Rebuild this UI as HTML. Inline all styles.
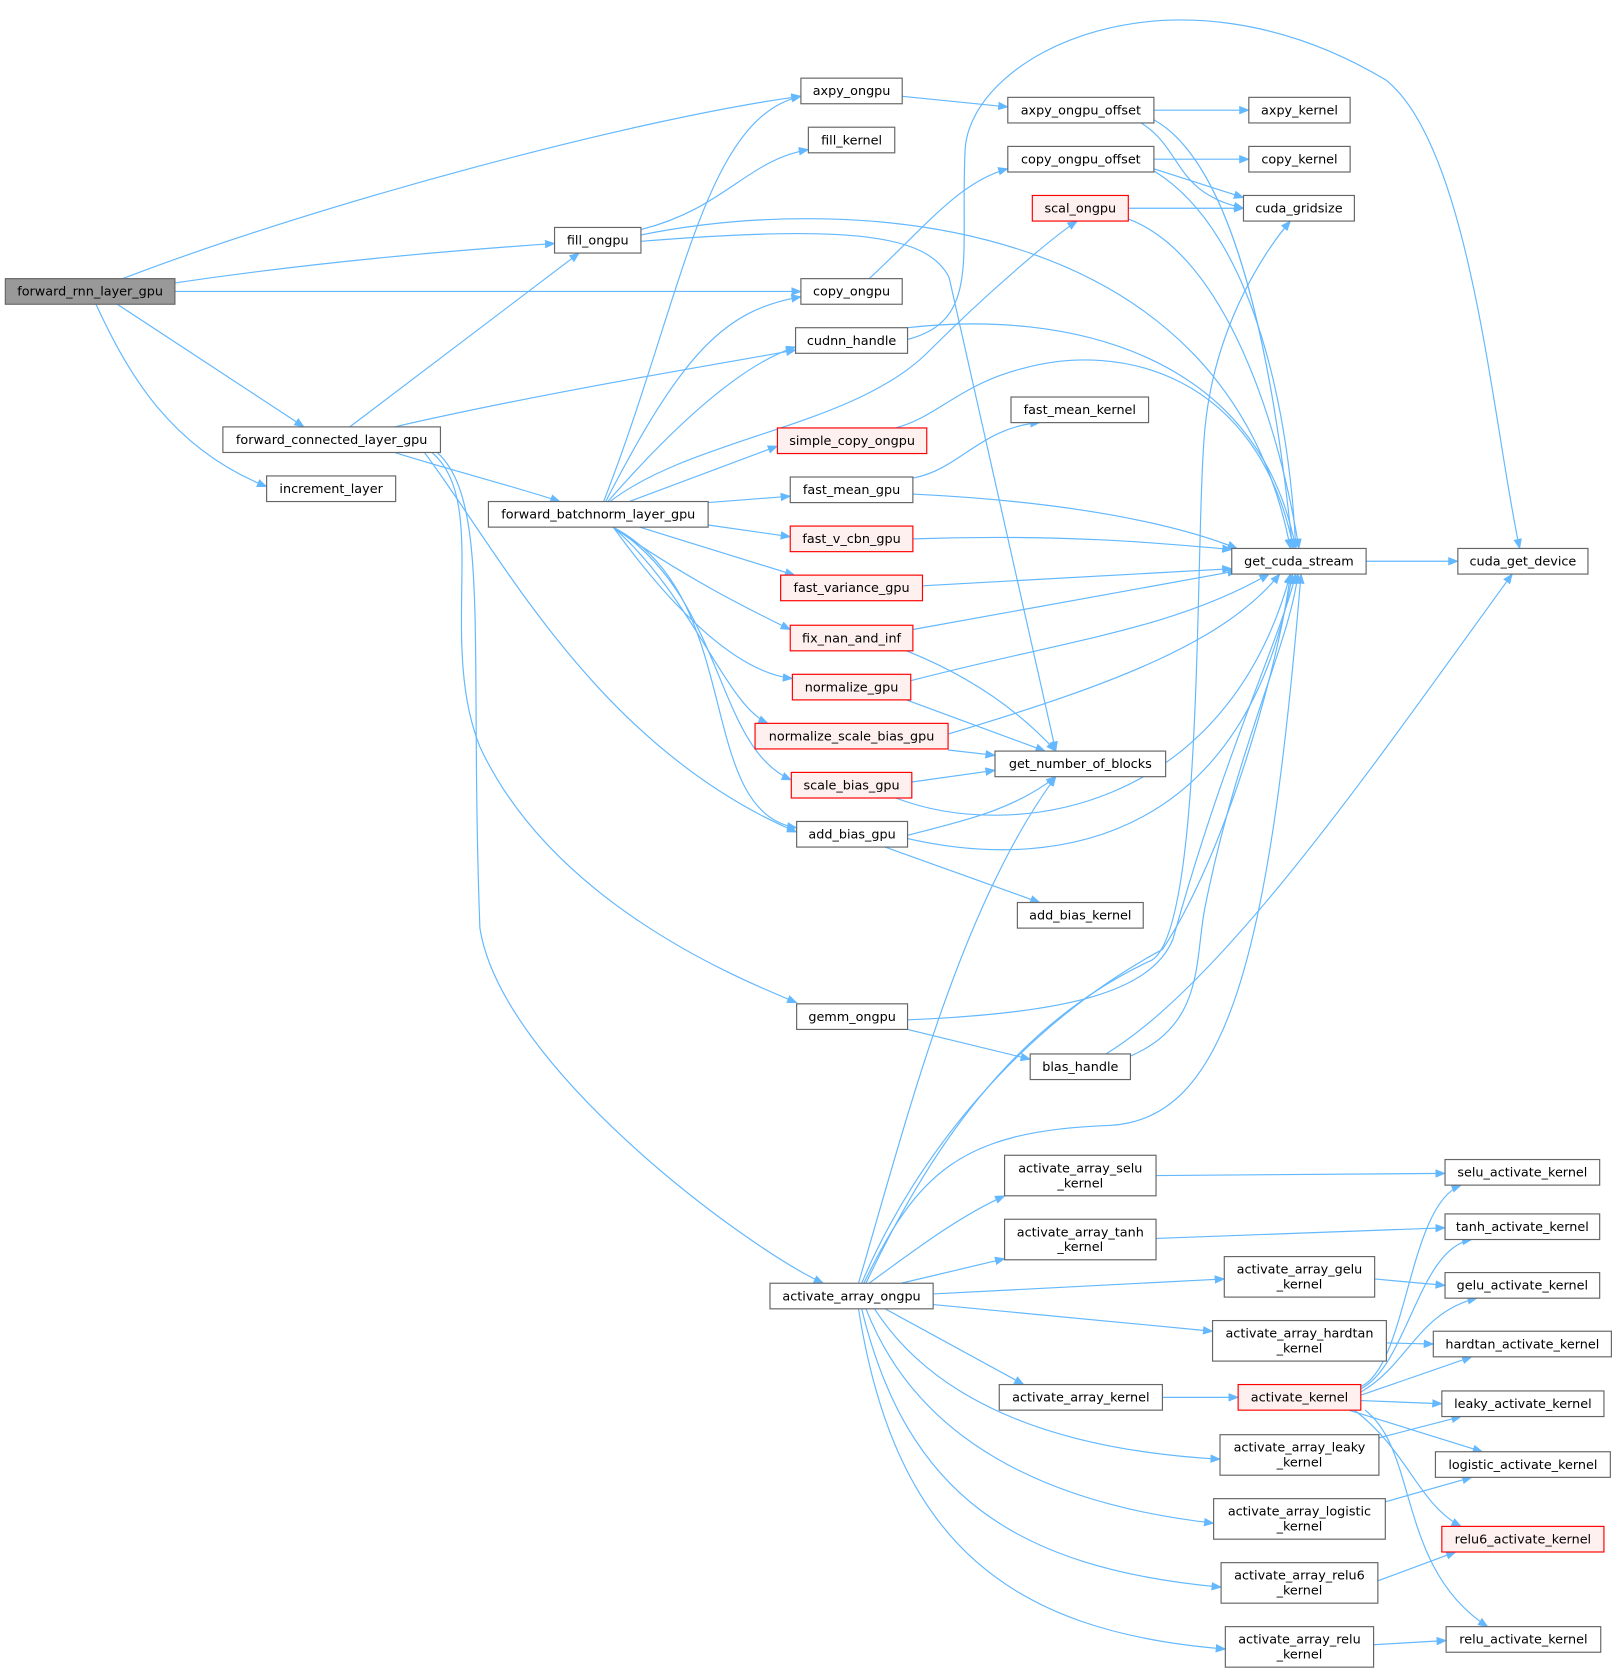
<!DOCTYPE html>
<html><head><meta charset="utf-8"><style>
html,body{margin:0;padding:0;background:#fff;}
svg{display:block;}
text{font-family:"DejaVu Sans","Liberation Sans",sans-serif;font-size:12px;fill:#000;text-anchor:middle;}
.n{fill:#fff;stroke:#666;stroke-width:1.1;}
.r{fill:#fff0f0;stroke:#f00;stroke-width:1.1;}
.g{fill:#999;stroke:#666;stroke-width:1.1;}
path.e{fill:none;stroke:#63b8ff;stroke-width:1.1;marker-end:url(#a);}
</style></head><body>
<svg width="1621" height="1676" viewBox="0 0 1520 1571" xmlns="http://www.w3.org/2000/svg">
<defs><marker id="a" markerWidth="10" markerHeight="8" refX="9" refY="4" orient="auto" markerUnits="userSpaceOnUse"><path d="M0,0 L10,4 L0,8 z" fill="#63b8ff"/></marker></defs>
<g>
<path class="e" d="M115,261 C300,190 600,110 751,90"/>
<path class="e" d="M164,265 C300,245 420,235 520,228"/>
<path class="e" d="M164,273 L751,273"/>
<path class="e" d="M110,285 L285,400"/>
<path class="e" d="M90,285 C120,350 160,420 250,456"/>
<path class="e" d="M328,400 L543,237"/>
<path class="e" d="M370,400 C500,370 650,345 746,328"/>
<path class="e" d="M370,424 C420,440 480,455 525,470"/>
<path class="e" d="M398,424 C470,520 560,700 747,780"/>
<path class="e" d="M405,424 C460,470 410,600 450,700 C520,850 700,920 747,940"/>
<path class="e" d="M410,424 C460,470 440,600 450,870 C470,1000 700,1170 772,1203"/>
<path class="e" d="M566,470 C640,280 660,110 751,90"/>
<path class="e" d="M568,470 C640,330 680,290 751,278"/>
<path class="e" d="M570,470 C640,390 700,340 746,325"/>
<path class="e" d="M572,470 C650,410 800,400 870,330 C930,270 990,220 1010,207"/>
<path class="e" d="M590,470 L729,418"/>
<path class="e" d="M664,471 L741,465"/>
<path class="e" d="M664,492 L741,503"/>
<path class="e" d="M600,494 L745,539"/>
<path class="e" d="M575,494 C640,540 700,570 741,590"/>
<path class="e" d="M575,494 C630,570 690,630 743,636"/>
<path class="e" d="M575,494 C650,560 680,660 720,678"/>
<path class="e" d="M575,494 C680,560 670,700 742,731"/>
<path class="e" d="M575,494 C700,560 650,760 747,776"/>
<path class="e" d="M601,215 C680,195 700,150 758,140"/>
<path class="e" d="M601,220 C800,180 1150,200 1210,514"/>
<path class="e" d="M601,226 C800,210 870,220 890,260 L990,704"/>
<path class="e" d="M846,90 L945,100"/>
<path class="e" d="M1082,103 L1171,103"/>
<path class="e" d="M1070,115 C1110,140 1100,180 1166,195"/>
<path class="e" d="M1082,112 C1150,150 1190,300 1212,514"/>
<path class="e" d="M815,261 C870,210 900,170 945,158"/>
<path class="e" d="M1082,149 L1171,149"/>
<path class="e" d="M1082,158 L1166,185"/>
<path class="e" d="M1082,160 C1180,220 1210,400 1215,514"/>
<path class="e" d="M1058,195 L1166,195"/>
<path class="e" d="M1058,205 C1150,240 1200,400 1218,514"/>
<path class="e" d="M851,318 C920,300 900,240 905,140 C910,50 1100,-45 1300,75 C1380,140 1400,400 1425,514"/>
<path class="e" d="M851,307 C1000,290 1180,330 1215,514"/>
<path class="e" d="M840,401 C880,390 900,360 960,345 C1050,320 1180,350 1213,514"/>
<path class="e" d="M856,448 C900,440 920,400 975,396"/>
<path class="e" d="M856,463 C1000,470 1100,490 1160,514"/>
<path class="e" d="M856,505 C1000,500 1100,510 1155,515"/>
<path class="e" d="M865,549 L1155,533"/>
<path class="e" d="M856,590 L1160,535"/>
<path class="e" d="M850,610 C900,630 950,660 990,704"/>
<path class="e" d="M854,638 C1000,600 1100,590 1190,538"/>
<path class="e" d="M850,656 L980,704"/>
<path class="e" d="M889,688 C1050,640 1150,600 1200,538"/>
<path class="e" d="M889,703 L933,708"/>
<path class="e" d="M855,733 L933,722"/>
<path class="e" d="M840,748 C950,790 1150,760 1210,538"/>
<path class="e" d="M851,783 C900,770 950,760 990,728"/>
<path class="e" d="M851,786 C1000,820 1170,780 1212,538"/>
<path class="e" d="M830,794 L975,846"/>
<path class="e" d="M851,956 C1000,950 1080,930 1100,880 C1150,700 1200,600 1215,538"/>
<path class="e" d="M851,965 L966,993"/>
<path class="e" d="M1037,988 C1150,920 1300,700 1418,538"/>
<path class="e" d="M1060,990 C1130,960 1120,900 1130,850 C1160,700 1210,600 1217,538"/>
<path class="e" d="M1281,526 L1367,526"/>
<path class="e" d="M805,1203 C850,1050 900,850 990,728"/>
<path class="e" d="M808,1203 C860,1080 960,960 1090,890 C1150,800 1200,620 1210,538"/>
<path class="e" d="M810,1203 C860,1100 900,1060 1040,1055 C1150,1050 1190,900 1220,538"/>
<path class="e" d="M812,1203 C870,1080 950,960 1080,900 C1130,870 1120,500 1130,400 C1140,300 1190,230 1210,207"/>
<path class="e" d="M815,1203 C860,1170 900,1140 942,1121"/>
<path class="e" d="M845,1203 L942,1180"/>
<path class="e" d="M875,1213 L1148,1199"/>
<path class="e" d="M875,1223 L1137,1248"/>
<path class="e" d="M830,1227 L960,1298"/>
<path class="e" d="M820,1227 C880,1320 1000,1360 1144,1368"/>
<path class="e" d="M812,1227 C860,1350 980,1410 1138,1428"/>
<path class="e" d="M808,1227 C850,1400 950,1470 1145,1488"/>
<path class="e" d="M805,1227 C840,1450 950,1530 1149,1546"/>
<path class="e" d="M1084,1102 L1355,1100"/>
<path class="e" d="M1084,1161 L1355,1151"/>
<path class="e" d="M1289,1199 L1355,1205"/>
<path class="e" d="M1300,1259 L1344,1260"/>
<path class="e" d="M1090,1310 L1161,1310"/>
<path class="e" d="M1293,1348 L1370,1328"/>
<path class="e" d="M1299,1408 L1380,1385"/>
<path class="e" d="M1292,1482 L1365,1455"/>
<path class="e" d="M1288,1542 L1356,1538"/>
<path class="e" d="M1276,1300 C1320,1280 1320,1130 1370,1111"/>
<path class="e" d="M1276,1302 C1320,1280 1330,1170 1380,1162"/>
<path class="e" d="M1276,1305 C1320,1280 1330,1230 1385,1217"/>
<path class="e" d="M1276,1308 L1380,1272"/>
<path class="e" d="M1276,1313 L1352,1316"/>
<path class="e" d="M1265,1322 L1390,1361"/>
<path class="e" d="M1270,1322 C1320,1360 1330,1410 1370,1431"/>
<path class="e" d="M1280,1322 C1330,1360 1310,1470 1395,1525"/>
</g>
<g>
<rect class="g" x="5" y="261" width="159" height="24"/><text x="84.5" y="277">forward_rnn_layer_gpu</text>
<rect class="n" x="751" y="73" width="95" height="24"/><text x="798.5" y="89">axpy_ongpu</text>
<rect class="n" x="758" y="119" width="81" height="24"/><text x="798.5" y="135">fill_kernel</text>
<rect class="n" x="520" y="213" width="81" height="24"/><text x="560.5" y="229">fill_ongpu</text>
<rect class="n" x="751" y="261" width="95" height="24"/><text x="798.5" y="277">copy_ongpu</text>
<rect class="n" x="746" y="307" width="105" height="24"/><text x="798.5" y="323">cudnn_handle</text>
<rect class="n" x="209" y="400" width="204" height="24"/><text x="311" y="416">forward_connected_layer_gpu</text>
<rect class="n" x="250" y="446" width="121" height="24"/><text x="310.5" y="462">increment_layer</text>
<rect class="n" x="458" y="470" width="206" height="24"/><text x="561" y="486">forward_batchnorm_layer_gpu</text>
<rect class="r" x="729" y="401" width="140" height="24"/><text x="799" y="417">simple_copy_ongpu</text>
<rect class="n" x="741" y="447" width="115" height="24"/><text x="798.5" y="463">fast_mean_gpu</text>
<rect class="r" x="741" y="493" width="115" height="24"/><text x="798.5" y="509">fast_v_cbn_gpu</text>
<rect class="r" x="732" y="539" width="133" height="24"/><text x="798.5" y="555">fast_variance_gpu</text>
<rect class="r" x="741" y="586" width="115" height="24"/><text x="798.5" y="602">fix_nan_and_inf</text>
<rect class="r" x="743" y="632" width="111" height="24"/><text x="798.5" y="648">normalize_gpu</text>
<rect class="r" x="708" y="678" width="181" height="24"/><text x="798.5" y="694">normalize_scale_bias_gpu</text>
<rect class="r" x="742" y="724" width="113" height="24"/><text x="798.5" y="740">scale_bias_gpu</text>
<rect class="n" x="747" y="770" width="104" height="24"/><text x="799" y="786">add_bias_gpu</text>
<rect class="n" x="747" y="941" width="104" height="24"/><text x="799" y="957">gemm_ongpu</text>
<rect class="n" x="722" y="1203" width="153" height="24"/><text x="798.5" y="1219">activate_array_ongpu</text>
<rect class="n" x="945" y="91" width="137" height="24"/><text x="1013.5" y="107">axpy_ongpu_offset</text>
<rect class="n" x="945" y="137" width="137" height="24"/><text x="1013.5" y="153">copy_ongpu_offset</text>
<rect class="r" x="968" y="183" width="90" height="24"/><text x="1013" y="199">scal_ongpu</text>
<rect class="n" x="948" y="372" width="129" height="24"/><text x="1012.5" y="388">fast_mean_kernel</text>
<rect class="n" x="933" y="704" width="160" height="24"/><text x="1013" y="720">get_number_of_blocks</text>
<rect class="n" x="954" y="846" width="118" height="24"/><text x="1013" y="862">add_bias_kernel</text>
<rect class="n" x="966" y="988" width="94" height="24"/><text x="1013" y="1004">blas_handle</text>
<rect class="n" x="942" y="1083" width="142" height="38"/><text x="1013" y="1099">activate_array_selu</text><text x="1013" y="1113">_kernel</text>
<rect class="n" x="942" y="1143" width="142" height="38"/><text x="1013" y="1159">activate_array_tanh</text><text x="1013" y="1173">_kernel</text>
<rect class="n" x="1148" y="1178" width="141" height="38"/><text x="1218.5" y="1194">activate_array_gelu</text><text x="1218.5" y="1208">_kernel</text>
<rect class="n" x="1137" y="1238" width="163" height="38"/><text x="1218.5" y="1254">activate_array_hardtan</text><text x="1218.5" y="1268">_kernel</text>
<rect class="n" x="937" y="1298" width="153" height="24"/><text x="1013.5" y="1314">activate_array_kernel</text>
<rect class="r" x="1161" y="1298" width="115" height="24"/><text x="1218.5" y="1314">activate_kernel</text>
<rect class="n" x="1144" y="1345" width="149" height="38"/><text x="1218.5" y="1361">activate_array_leaky</text><text x="1218.5" y="1375">_kernel</text>
<rect class="n" x="1138" y="1405" width="161" height="38"/><text x="1218.5" y="1421">activate_array_logistic</text><text x="1218.5" y="1435">_kernel</text>
<rect class="n" x="1145" y="1465" width="147" height="38"/><text x="1218.5" y="1481">activate_array_relu6</text><text x="1218.5" y="1495">_kernel</text>
<rect class="n" x="1149" y="1525" width="139" height="38"/><text x="1218.5" y="1541">activate_array_relu</text><text x="1218.5" y="1555">_kernel</text>
<rect class="n" x="1171" y="91" width="95" height="24"/><text x="1218.5" y="107">axpy_kernel</text>
<rect class="n" x="1171" y="137" width="95" height="24"/><text x="1218.5" y="153">copy_kernel</text>
<rect class="n" x="1166" y="183" width="104" height="24"/><text x="1218" y="199">cuda_gridsize</text>
<rect class="n" x="1155" y="514" width="126" height="24"/><text x="1218" y="530">get_cuda_stream</text>
<rect class="n" x="1367" y="514" width="122" height="24"/><text x="1428" y="530">cuda_get_device</text>
<rect class="n" x="1355" y="1087" width="145" height="24"/><text x="1427.5" y="1103">selu_activate_kernel</text>
<rect class="n" x="1355" y="1138" width="145" height="24"/><text x="1427.5" y="1154">tanh_activate_kernel</text>
<rect class="n" x="1355" y="1193" width="145" height="24"/><text x="1427.5" y="1209">gelu_activate_kernel</text>
<rect class="n" x="1344" y="1248" width="167" height="24"/><text x="1427.5" y="1264">hardtan_activate_kernel</text>
<rect class="n" x="1352" y="1304" width="152" height="24"/><text x="1428" y="1320">leaky_activate_kernel</text>
<rect class="n" x="1346" y="1361" width="164" height="24"/><text x="1428" y="1377">logistic_activate_kernel</text>
<rect class="r" x="1352" y="1431" width="152" height="24"/><text x="1428" y="1447">relu6_activate_kernel</text>
<rect class="n" x="1356" y="1525" width="145" height="24"/><text x="1428.5" y="1541">relu_activate_kernel</text>
</g>
</svg>
</body></html>
